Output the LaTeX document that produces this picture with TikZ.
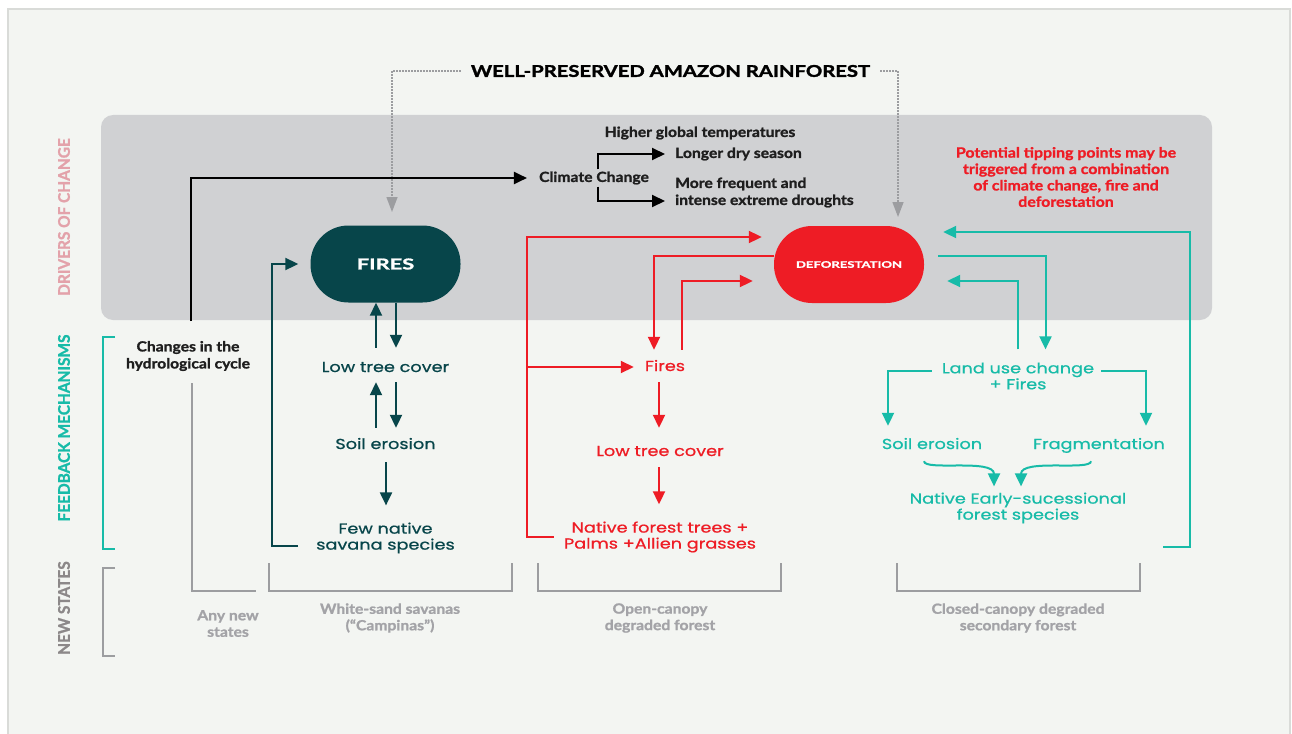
\documentclass[tikz,border=0pt]{standalone}
\usepackage{fontspec}
\usepackage{graphicx}
\setmainfont{Lato}
\newfontfamily\geo{Poppins}[FakeStretch=1.22, FakeBold=0.7]
\newfontfamily\heavy{Lato}[FakeStretch=1.12, BoldFeatures={FakeBold=1.3}]
\newfontfamily\titlef{Lato}[FakeStretch=1.25, BoldFeatures={FakeBold=1.8}]
\usetikzlibrary{arrows.meta,calc}
\definecolor{bg}{HTML}{F3F5F2}
\definecolor{bgline}{HTML}{D9DBD8}
\definecolor{band}{HTML}{D0D1D3}
\definecolor{dteal}{HTML}{07454A}
\definecolor{ared}{HTML}{EE1C25}
\definecolor{teal}{HTML}{17BBA8}
\definecolor{bgray}{HTML}{9C9DA0}
\definecolor{lgray}{HTML}{A3A3A7}
\definecolor{pinkl}{HTML}{E3A2AA}
\definecolor{sgray}{HTML}{8C8889}
\definecolor{ink}{HTML}{1E1E1E}
\begin{document}
\begin{tikzpicture}[x=1pt,y=-1pt,
  lbl/.style={font=\geo\fontsize{14.5}{16}\selectfont, inner sep=2pt, align=center},
  one/.style={text height=11pt, text depth=3pt},
  blk/.style={font=\heavy\bfseries\fontsize{14}{17}\selectfont, text=ink, inner sep=2pt, align=center},
  low/.style={font=\heavy\bfseries\fontsize{14}{16.5}\selectfont, text=lgray, inner sep=2pt, align=center},
  side/.style={font=\heavy\bfseries\fontsize{16}{18}\selectfont, rotate=90, inner sep=0pt},
  pill/.style={rounded corners=38pt, minimum width=150pt, minimum height=77pt, inner sep=0pt, text=white},
  tipA/.style={-{Triangle[length=13pt,width=12pt]}},
  ln/.style={line width=2pt},
  dotl/.style={draw=bgray, line width=1.4pt, dash pattern=on 1.3pt off 1.7pt, -{Triangle[length=15pt,width=11pt,sep=0pt]}},
  brk/.style={draw=bgray, line width=2pt}
]
\useasboundingbox (0,0) rectangle (1292,733);
\clip (0,0) rectangle (1292,733);
\fill[white] (0,0) rectangle (1292,733);
\draw[draw=bgline, fill=bg, line width=2pt] (8,9) rectangle (1290,745);
\fill[band, rounded corners=12pt] (101,115) rectangle (1212,320);

% side labels
\node[side, text=pinkl] (sdrv) at (64,217) {\scalebox{0.86}[1]{DRIVERS OF CHANGE}};
\node[side, text=teal] (sfb) at (64,428) {\scalebox{0.86}[1]{FEEDBACK MECHANISMS}};
\node[side, text=sgray] (sns) at (64,608) {\scalebox{0.86}[1]{NEW STATES}};
\draw[draw=teal, line width=2pt] (115,337) -- (103,337) -- (103,549) -- (115,549);
\draw[brk] (115,568) -- (103,568) -- (103,656) -- (115,656);

% title
\node[font=\titlef\bfseries\fontsize{16.2}{18}\selectfont, text=black, inner sep=2pt] (title) at (670.5,71) {WELL-PRESERVED AMAZON RAINFOREST};
\coordinate (fa) at (392,212);
\coordinate (da) at (898,217);
\draw[dotl, shorten <=8pt] (title.west) -| (fa);
\draw[dotl, shorten <=8pt] (title.east) -| (da);

% main nodes
\node[pill, fill=dteal, font=\heavy\bfseries\fontsize{15}{17}\selectfont] (fires) at (385.5,264) {\scalebox{1.3}[1]{FIRES}};
\node[pill, fill=ared, font=\heavy\bfseries\fontsize{9}{11}\selectfont] (defo) at (849,264.5) {\scalebox{1.3}[1]{DEFORESTATION}};

% climate
\node[blk] (cc) at (594,178) {Climate Change};
\node[blk] (hgt) at (700,133) {Higher global temperatures};
\node[blk, anchor=west] (lds) at (673,154) {Longer dry season};
\node[blk, anchor=west, align=left] (mfd) at (673,192.5) {More frequent and\\intense extreme droughts};
\coordinate (ccx) at (598,0);
\draw[ln, tipA, draw=black, shorten >=8pt] (cc.north -| ccx) |- (lds.west);
\draw[ln, tipA, draw=black, shorten >=8pt] (cc.south -| ccx) |- ([yshift=-8.5pt]mfd.west);

\node[font=\heavy\bfseries\fontsize{14.2}{16.4}\selectfont, text=ared, align=center, inner sep=2pt] (tip) at (1066,177) {Potential tipping points may be\\triggered from a combination\\of climate change, fire and\\deforestation};

% hydrological
\node[blk] (hyd) at (188,356) {Changes in the\\hydrological cycle};
\coordinate (h0) at (191,321);
\draw[ln, tipA, draw=black, shorten >=10pt] (h0) |- (cc.west);
\coordinate (an) at (256,591);
\draw[brk] ([xshift=4pt,yshift=-10pt]hyd.south) |- (an);
\node[low] (anyn) at (228,623.5) {Any new\\states};

% fires column
\node[lbl, one, text=dteal] (ltc1) at (385.5,368) {Low tree cover};
\node[lbl, one, text=dteal] (se1) at (385.5,445) {Soil erosion};
\node[lbl, text=dteal] (fns) at (385.5,538) {Few native\\savana species};
\begin{scope}[ln, draw=dteal, tipA]
\draw[shorten <=11pt] ([xshift=-9.5pt]ltc1.north) -- ([xshift=-9.5pt]fires.south);
\draw[shorten >=11pt] ([xshift=10.5pt]fires.south) -- ([xshift=10.5pt]ltc1.north);
\draw[shorten <=8pt, shorten >=5pt] ([xshift=-9.5pt]se1.north) -- ([xshift=-9.5pt]ltc1.south);
\draw[shorten <=5pt, shorten >=8pt] ([xshift=10.5pt]ltc1.south) -- ([xshift=10.5pt]se1.north);
\draw[shorten <=8pt, shorten >=15pt] ([xshift=0.5pt]se1.south) -- ([xshift=0.5pt]fns.north);
\coordinate (lx) at (272,400);
\draw ([xshift=-16pt,yshift=-8pt]fns.west) -| (lx) |- ([xshift=-12pt]fires.west);
\end{scope}

% red column
\node[lbl, one, text=ared] (rf) at (665,367) {Fires};
\node[lbl, one, text=ared] (rltc) at (660,452) {Low tree cover};
\node[lbl, text=ared] (rnf) at (660,537) {Native forest trees +\\Palms +Allien grasses};
\begin{scope}[ln, draw=ared, tipA]
\coordinate (rx) at (527,300);
\draw ([xshift=-8pt]rnf.west) -| (rx) |- ([xshift=-12pt,yshift=27.5pt]defo.west);
\draw[shorten >=9pt] (rx |- rf) -- (rf.west);
\draw[shorten >=8pt] ([yshift=8.5pt]defo.west) -| ([xshift=-11pt]rf.north);
\draw[shorten <=8pt] ([xshift=17pt]rf.north) |- ([xshift=-21pt,yshift=-16.5pt]defo.west);
\draw[shorten <=6pt, shorten >=15pt] ([xshift=-1pt]rltc.north |- rf.south) -- ([xshift=-1pt]rltc.north);
\draw[shorten <=6pt, shorten >=15pt] ([xshift=-1pt]rltc.south) -- ([xshift=-1pt]rnf.north);
\end{scope}

% teal column
\node[lbl, text=teal] (luc) at (1018,376) {Land use change\\+ Fires};
\node[lbl, one, text=teal] (se2) at (932,445) {Soil erosion};
\node[lbl, one, text=teal] (frag) at (1099,445) {Fragmentation};
\node[lbl, text=teal] (neb) at (1018,508) {Native Early-sucessional\\forest species};
\begin{scope}[ln, draw=teal, tipA]
\draw[shorten >=11pt] ([xshift=14pt,yshift=8.5pt]defo.east) -| ([xshift=27.5pt]luc.north);
\draw[shorten <=11pt] ([xshift=-0.5pt]luc.north) |- ([xshift=23pt,yshift=-16.5pt]defo.east);
\coordinate (tb) at (1163,547);
\coordinate (tx) at (1190,400);
\draw (tb) -| (tx) |- ([xshift=19pt,yshift=32.5pt]defo.east);
\draw[shorten >=10pt] ([xshift=-8pt,yshift=5pt]luc.west) -| ([xshift=-44pt]se2.north);
\draw[shorten >=10pt] ([xshift=5pt,yshift=5pt]luc.east) -| ([xshift=47pt]frag.north);
\draw ([xshift=-8pt,yshift=-7pt]se2.south) .. controls +(0,10) and +(0,-28) .. ([xshift=-24pt,yshift=4pt]neb.north);
\draw ([xshift=-8pt,yshift=-7pt]frag.south) .. controls +(0,10) and +(0,-28) .. ([xshift=3pt,yshift=4pt]neb.north);
\end{scope}

% new states brackets
\draw[brk] (269,563) |- (512,591) -- (512,563);
\draw[brk] (538,563) |- (781,591) -- (781,563);
\draw[brk] (897,563) |- (1140,591) -- (1140,563);
\node[low] (ws) at (390,618) {White-sand savanas\\(“Campinas”)};
\node[low] (oc) at (660,618) {Open-canopy\\degraded forest};
\node[low] (ccd) at (1018,618) {Closed-canopy degraded\\secondary forest};
\end{tikzpicture}
\end{document}
